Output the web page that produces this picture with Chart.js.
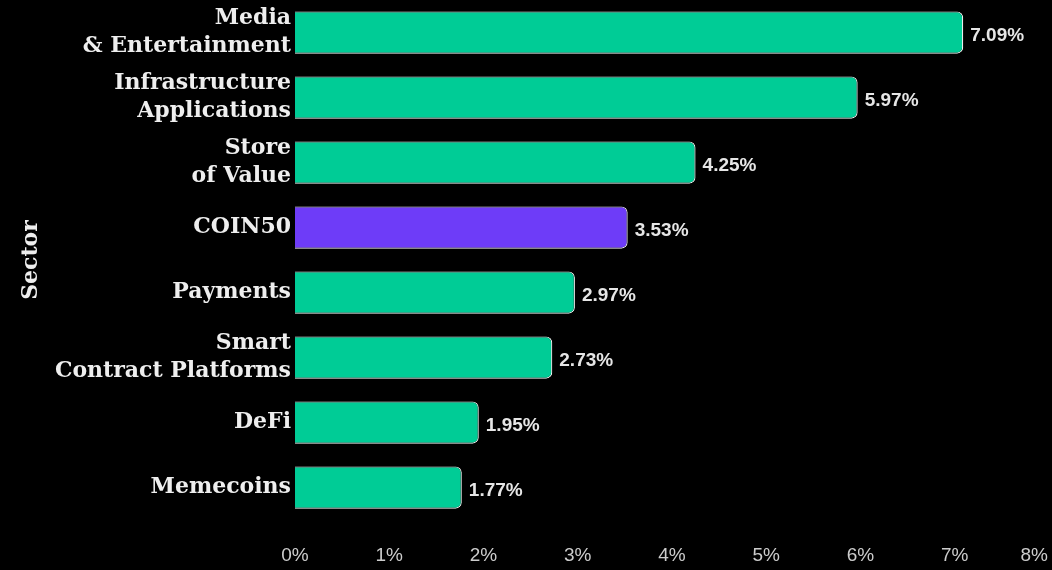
<!DOCTYPE html>
<html>
<head>
<meta charset="utf-8">
<script src="https://cdn.jsdelivr.net/npm/chart.js@4"></script>
<style>
  html, body { margin: 0; padding: 0; background: #000; }
  #wrap { width: 1052px; height: 570px; }
</style>
</head>
<body>
<div id="wrap"><canvas id="sector-bar"></canvas></div>
<script>
const sectors = [
  ['Media', '& Entertainment'],
  ['Infrastructure', 'Applications'],
  ['Store', 'of Value'],
  'COIN50',
  'Payments',
  ['Smart', 'Contract Platforms'],
  'DeFi',
  'Memecoins'
];
const returns = [7.09, 5.97, 4.25, 3.53, 2.97, 2.73, 1.95, 1.77];
const barColors = ['#00cc96', '#00cc96', '#00cc96', '#6e3cf8', '#00cc96', '#00cc96', '#00cc96', '#00cc96'];
const xMax = 8;

// value label after each bar + last x tick pulled inside
const valueLabels = {
  id: 'valueLabels',
  afterDatasetsDraw(chart) {
    const ctx = chart.ctx;
    const meta = chart.getDatasetMeta(0);
    ctx.save();
    ctx.font = 'bold 19px "Liberation Sans", Arial, sans-serif';
    ctx.fillStyle = '#e6e6e6';
    ctx.textBaseline = 'middle';
    ctx.textAlign = 'left';
    meta.data.forEach((bar, i) => {
      ctx.fillText(returns[i].toFixed(2) + '%', bar.x + 7, bar.y + 3);
    });
    const xs = chart.scales.x;
    ctx.font = '19px "Liberation Sans", Arial, sans-serif';
    ctx.fillStyle = '#cccccc';
    ctx.textAlign = 'right';
    ctx.fillText(xMax + '%', xs.getPixelForValue(xMax) - 1, 556);
    ctx.restore();
  }
};

const ctx = document.getElementById('sector-bar').getContext('2d');
const chart = new Chart(ctx, {
  type: 'bar',
  data: {
    labels: sectors,
    datasets: [{
      data: returns,
      backgroundColor: barColors,
      borderColor: '#f2f2f2',
      borderWidth: 1.2,
      borderRadius: { topRight: 6, bottomRight: 6 },
      borderSkipped: 'start',
      barPercentage: 0.65,
      categoryPercentage: 1.0
    }]
  },
  plugins: [valueLabels],
  options: {
    indexAxis: 'y',
    responsive: true,
    maintainAspectRatio: false,
    animation: false,
    layout: { padding: { top: 0, right: 3, bottom: 0, left: 0 } },
    plugins: {
      legend: { display: false },
      tooltip: { enabled: false }
    },
    scales: {
      x: {
        min: 0,
        max: xMax,
        grid: { display: false, drawTicks: false },
        border: { display: false },
        ticks: {
          stepSize: 1,
          color: c => c.index === xMax ? 'rgba(0,0,0,0)' : '#cccccc',
          padding: 24,
          font: { family: '"Liberation Sans", Arial, sans-serif', size: 19 },
          callback: v => v + '%'
        },
        afterFit(scale) {
          scale.height = 50;
          scale.paddingLeft = 0;
          scale.paddingRight = 0;
        }
      },
      y: {
        grid: { display: false, drawTicks: false },
        border: { display: false },
        ticks: {
          color: '#eeeeee',
          padding: 4,
          font: { family: '"DejaVu Serif", serif', size: 22, weight: 'bold', lineHeight: 1.27 }
        },
        title: {
          display: true,
          text: 'Sector',
          color: '#eeeeee',
          padding: { top: 18, bottom: 0 },
          font: { family: '"DejaVu Serif", serif', size: 22, weight: 'bold' }
        },
        afterFit(scale) {
          scale.width = 295;
          scale.paddingTop = 0;
          scale.paddingBottom = 0;
        }
      }
    }
  }
});
</script>
</body>
</html>
